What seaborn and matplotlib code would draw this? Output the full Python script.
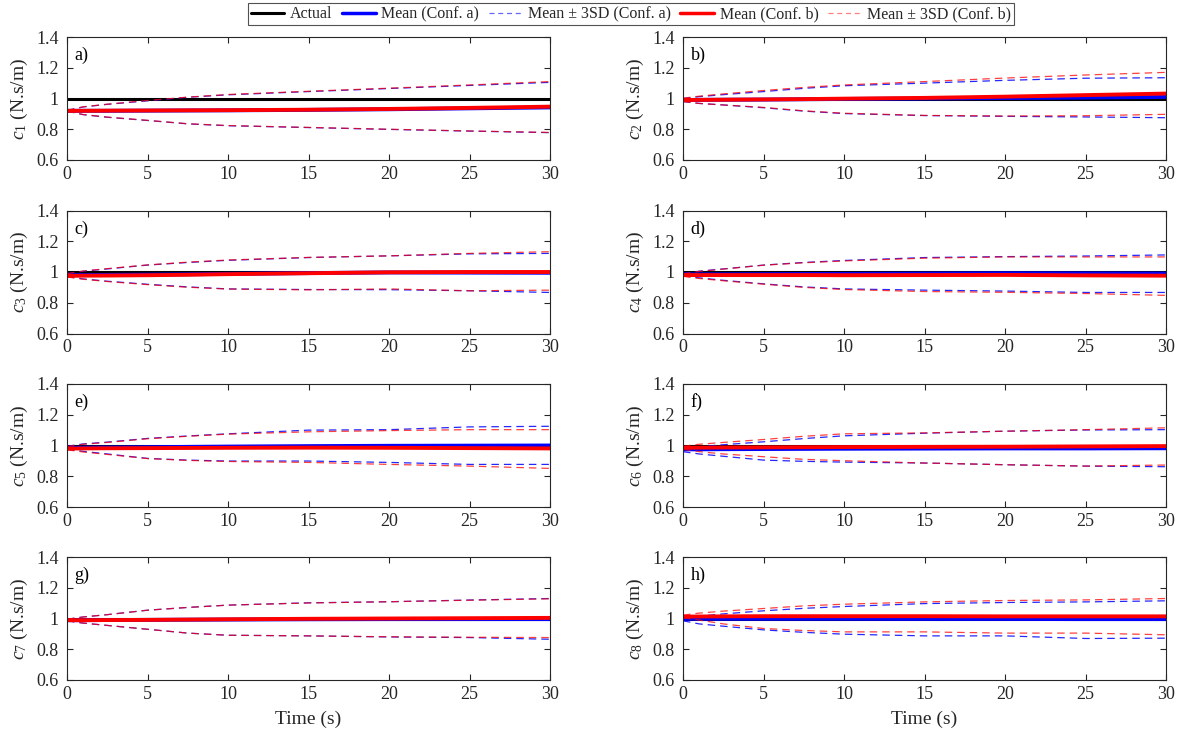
import numpy as np
import matplotlib
matplotlib.use("Agg")
import matplotlib.pyplot as plt
from matplotlib.lines import Line2D
import seaborn as sns

# time grid (s)
t = [0, 1, 2.5, 5, 7.5, 10, 15, 20, 25, 30]

# c1
c1_mean_a = [0.920, 0.920, 0.920, 0.921, 0.922, 0.923, 0.926, 0.930, 0.936, 0.942]
c1_mean_b = [0.920, 0.920, 0.921, 0.922, 0.923, 0.924, 0.927, 0.932, 0.939, 0.947]
c1_hi_a = [0.922, 0.945, 0.962, 0.985, 1.008, 1.024, 1.045, 1.065, 1.085, 1.105]
c1_lo_a = [0.918, 0.895, 0.878, 0.857, 0.835, 0.823, 0.811, 0.799, 0.788, 0.778]
c1_hi_b = [0.922, 0.946, 0.963, 0.987, 1.009, 1.026, 1.047, 1.067, 1.088, 1.110]
c1_lo_b = [0.918, 0.896, 0.879, 0.858, 0.836, 0.824, 0.812, 0.800, 0.789, 0.779]
# c2
c2_mean_a = [0.990, 0.991, 0.992, 0.993, 0.995, 0.997, 1.000, 1.003, 1.006, 1.010]
c2_mean_b = [0.990, 0.991, 0.992, 0.994, 0.996, 0.999, 1.004, 1.012, 1.022, 1.032]
c2_hi_a = [1.000, 1.012, 1.025, 1.045, 1.066, 1.083, 1.100, 1.118, 1.132, 1.135]
c2_lo_a = [0.980, 0.968, 0.958, 0.940, 0.918, 0.902, 0.889, 0.884, 0.880, 0.875]
c2_hi_b = [1.002, 1.015, 1.030, 1.052, 1.072, 1.088, 1.110, 1.133, 1.153, 1.170]
c2_lo_b = [0.980, 0.968, 0.958, 0.942, 0.920, 0.904, 0.890, 0.886, 0.888, 0.897]
# c3
c3_mean_a = [0.980, 0.980, 0.981, 0.983, 0.985, 0.988, 0.993, 0.997, 0.996, 0.995]
c3_mean_b = [0.975, 0.976, 0.977, 0.979, 0.982, 0.986, 0.992, 0.998, 1.000, 1.000]
c3_hi_a = [0.990, 1.005, 1.020, 1.045, 1.062, 1.076, 1.094, 1.105, 1.118, 1.121]
c3_lo_a = [0.970, 0.955, 0.940, 0.920, 0.903, 0.890, 0.886, 0.885, 0.878, 0.867]
c3_hi_b = [0.990, 1.006, 1.022, 1.046, 1.064, 1.078, 1.095, 1.105, 1.121, 1.132]
c3_lo_b = [0.968, 0.953, 0.938, 0.918, 0.901, 0.889, 0.884, 0.890, 0.878, 0.882]
# c4
c4_mean_a = [0.985, 0.985, 0.985, 0.986, 0.987, 0.988, 0.990, 0.992, 0.991, 0.990]
c4_mean_b = [0.980, 0.980, 0.980, 0.980, 0.980, 0.979, 0.980, 0.981, 0.978, 0.976]
c4_hi_a = [0.990, 1.005, 1.020, 1.045, 1.062, 1.075, 1.094, 1.100, 1.104, 1.111]
c4_lo_a = [0.975, 0.962, 0.946, 0.923, 0.903, 0.890, 0.882, 0.876, 0.867, 0.867]
c4_hi_b = [0.988, 1.004, 1.019, 1.044, 1.060, 1.072, 1.090, 1.098, 1.098, 1.098]
c4_lo_b = [0.972, 0.958, 0.943, 0.921, 0.900, 0.886, 0.873, 0.868, 0.860, 0.848]
# c5
c5_mean_a = [0.985, 0.986, 0.987, 0.989, 0.991, 0.993, 0.996, 0.998, 0.999, 1.000]
c5_mean_b = [0.980, 0.981, 0.982, 0.983, 0.984, 0.985, 0.986, 0.985, 0.983, 0.981]
c5_hi_a = [0.995, 1.010, 1.022, 1.046, 1.062, 1.076, 1.100, 1.103, 1.121, 1.125]
c5_lo_a = [0.975, 0.962, 0.945, 0.916, 0.905, 0.899, 0.899, 0.890, 0.877, 0.877]
c5_hi_b = [0.993, 1.008, 1.020, 1.044, 1.060, 1.074, 1.089, 1.097, 1.103, 1.103]
c5_lo_b = [0.972, 0.958, 0.942, 0.915, 0.903, 0.896, 0.890, 0.877, 0.866, 0.851]
# c6
c6_mean_a = [0.975, 0.975, 0.976, 0.977, 0.978, 0.979, 0.980, 0.981, 0.981, 0.982]
c6_mean_b = [0.985, 0.986, 0.987, 0.988, 0.989, 0.990, 0.991, 0.992, 0.994, 0.996]
c6_hi_a = [0.980, 0.992, 1.005, 1.024, 1.045, 1.063, 1.080, 1.093, 1.101, 1.103]
c6_lo_a = [0.960, 0.945, 0.930, 0.905, 0.897, 0.892, 0.886, 0.875, 0.866, 0.862]
c6_hi_b = [0.995, 1.008, 1.020, 1.039, 1.060, 1.076, 1.082, 1.093, 1.103, 1.115]
c6_lo_b = [0.975, 0.960, 0.945, 0.927, 0.910, 0.901, 0.886, 0.875, 0.866, 0.873]
# c7
c7_mean_a = [0.989, 0.989, 0.990, 0.991, 0.992, 0.993, 0.995, 0.996, 0.996, 0.996]
c7_mean_b = [0.989, 0.989, 0.990, 0.991, 0.993, 0.995, 0.998, 1.000, 1.002, 1.004]
c7_hi_a = [0.995, 1.010, 1.025, 1.054, 1.072, 1.087, 1.102, 1.109, 1.120, 1.130]
c7_lo_a = [0.985, 0.970, 0.955, 0.930, 0.905, 0.891, 0.887, 0.880, 0.876, 0.865]
c7_hi_b = [0.995, 1.010, 1.025, 1.054, 1.072, 1.087, 1.101, 1.109, 1.119, 1.128]
c7_lo_b = [0.985, 0.970, 0.955, 0.930, 0.905, 0.891, 0.887, 0.881, 0.878, 0.876]
# c8
c8_mean_a = [0.998, 0.998, 0.998, 0.998, 0.998, 0.998, 0.997, 0.997, 0.996, 0.996]
c8_mean_b = [1.012, 1.013, 1.014, 1.015, 1.015, 1.015, 1.015, 1.014, 1.014, 1.014]
c8_hi_a = [0.998, 1.015, 1.030, 1.050, 1.066, 1.078, 1.097, 1.104, 1.108, 1.115]
c8_lo_a = [0.985, 0.965, 0.950, 0.926, 0.910, 0.898, 0.887, 0.887, 0.870, 0.872]
c8_hi_b = [1.022, 1.035, 1.048, 1.065, 1.082, 1.093, 1.108, 1.117, 1.121, 1.130]
c8_lo_b = [1.005, 0.990, 0.965, 0.935, 0.922, 0.913, 0.913, 0.905, 0.905, 0.894]

panels = [
    (c1_mean_a, c1_mean_b, c1_hi_a, c1_lo_a, c1_hi_b, c1_lo_b),
    (c2_mean_a, c2_mean_b, c2_hi_a, c2_lo_a, c2_hi_b, c2_lo_b),
    (c3_mean_a, c3_mean_b, c3_hi_a, c3_lo_a, c3_hi_b, c3_lo_b),
    (c4_mean_a, c4_mean_b, c4_hi_a, c4_lo_a, c4_hi_b, c4_lo_b),
    (c5_mean_a, c5_mean_b, c5_hi_a, c5_lo_a, c5_hi_b, c5_lo_b),
    (c6_mean_a, c6_mean_b, c6_hi_a, c6_lo_a, c6_hi_b, c6_lo_b),
    (c7_mean_a, c7_mean_b, c7_hi_a, c7_lo_a, c7_hi_b, c7_lo_b),
    (c8_mean_a, c8_mean_b, c8_hi_a, c8_lo_a, c8_hi_b, c8_lo_b),
]
letters = ['a)', 'b)', 'c)', 'd)', 'e)', 'f)', 'g)', 'h)']
actual = 1.0

sns.set_theme(style="ticks")
plt.rcParams['font.family'] = ['Liberation Serif', 'DejaVu Serif']
plt.rcParams['mathtext.fontset'] = 'custom'
plt.rcParams['mathtext.rm'] = 'Liberation Serif'
plt.rcParams['mathtext.it'] = 'Liberation Serif:italic'
plt.rcParams['axes.edgecolor'] = '#262626'
plt.rcParams['axes.linewidth'] = 0.8

W, H = 1189, 731
fig = plt.figure(figsize=(W / 100, H / 100), dpi=100)

lefts = [67, 683]
width = 483
tops = [37, 210.5, 384, 557]
height = 123

dash = (0, (6, 4))
for i, (ma, mb, ha, la, hb, lb) in enumerate(panels):
    row, col = divmod(i, 2)
    ax = fig.add_axes([lefts[col] / W, 1 - (tops[row] + height) / H, width / W, height / H])
    sns.lineplot(x=t, y=[actual] * len(t), ax=ax, color='black', lw=2.2)
    sns.lineplot(x=t, y=ma, ax=ax, color='blue', lw=2.8)
    sns.lineplot(x=t, y=ha, ax=ax, color='blue', lw=0.9, linestyle=dash, alpha=0.85)
    sns.lineplot(x=t, y=la, ax=ax, color='blue', lw=0.9, linestyle=dash, alpha=0.85)
    sns.lineplot(x=t, y=mb, ax=ax, color='red', lw=2.8)
    sns.lineplot(x=t, y=hb, ax=ax, color='red', lw=0.9, linestyle=dash, alpha=0.75)
    sns.lineplot(x=t, y=lb, ax=ax, color='red', lw=0.9, linestyle=dash, alpha=0.75)

    ax.set_xlim(0, 30)
    ax.set_ylim(0.6, 1.4)
    ax.set_xticks([0, 5, 10, 15, 20, 25, 30])
    ax.set_yticks([0.6, 0.8, 1.0, 1.2, 1.4])
    ax.set_yticklabels(['0.6', '0.8', '1', '1.2', '1.4'])
    ax.tick_params(direction='in', top=True, right=True, labelsize=13,
                   length=4, width=0.8, colors='#262626')
    ax.tick_params(axis='x', pad=4)
    ax.tick_params(axis='y', pad=6)
    for sp in ax.spines.values():
        sp.set_visible(True)
    ax.set_ylabel(r'$c_{\mathit{%d}}$ (N.s/m)' % (i + 1), fontsize=14)
    ax.yaxis.set_label_coords(-37 / width, 0.5)
    if row == 3:
        ax.set_xlabel('Time (s)', fontsize=14)
        ax.xaxis.set_label_coords(0.5, -0.25)
    else:
        ax.set_xlabel('')
    ax.text(0.016, 0.85, letters[i], transform=ax.transAxes, fontsize=13,
            ha='left', va='center', color='black')

handles = [
    Line2D([], [], color='black', lw=2.2),
    Line2D([], [], color='blue', lw=2.5),
    Line2D([], [], color='blue', lw=0.9, linestyle=(0, (4, 3)), alpha=0.6),
    Line2D([], [], color='red', lw=2.5),
    Line2D([], [], color='red', lw=0.9, linestyle=(0, (4, 3)), alpha=0.5),
]
labels = ['Actual', 'Mean (Conf. a)', 'Mean \u00b1 3SD (Conf. a)',
          'Mean (Conf. b)', 'Mean \u00b1 3SD (Conf. b)']
leg = fig.legend(handles, labels, loc='upper center', bbox_to_anchor=(631 / W, 0.996),
                 ncol=5, frameon=True, fancybox=False, fontsize=11.5,
                 handlelength=2.1, handletextpad=0.35, columnspacing=0.6,
                 borderpad=0.2, borderaxespad=0)
leg.get_frame().set_edgecolor('#262626')
leg.get_frame().set_linewidth(0.8)

fig.savefig('out.png', dpi=100)
